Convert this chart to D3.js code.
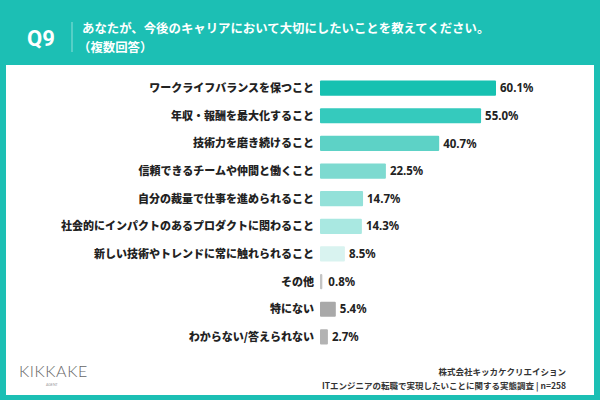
<!DOCTYPE html>
<html>
<head>
<meta charset="utf-8">
<script src="https://cdn.jsdelivr.net/npm/d3@7"></script>
<style>
  body { margin: 0; background: #1cbfb4; }
  svg { display: block; font-family: "Noto Sans CJK JP", "Noto Sans", sans-serif; }
</style>
</head>
<body>
<script>
// Data
const categories = [
  'ワークライフバランスを保つこと',
  '年収・報酬を最大化すること',
  '技術力を磨き続けること',
  '信頼できるチームや仲間と働くこと',
  '自分の裁量で仕事を進められること',
  '社会的にインパクトのあるプロダクトに関わること',
  '新しい技術やトレンドに常に触れられること',
  'その他',
  '特にない',
  'わからない/答えられない'
];
const values = [60.1, 55.0, 40.7, 22.5, 14.7, 14.3, 8.5, 0.8, 5.4, 2.7];
const barColors = ['#17c1b1', '#35cabd', '#5dd2c6', '#7ddad0', '#93e1d9', '#a9e8e1', '#d9f3f0', '#c4c4c4', '#a9a9a9', '#b3b3b3'];

const width = 600, height = 400;

let svg = d3.select('body').append('svg')
  .attr('width', width)
  .attr('height', height);

// Background + panel
svg.append('rect').attr('width', width).attr('height', height).attr('fill', '#1cbfb4');
svg.append('rect')
  .attr('x', 6).attr('y', 65)
  .attr('width', 588).attr('height', 330)
  .attr('fill', '#ffffff');

// Header
svg.append('text')
  .attr('x', 27).attr('y', 46)
  .attr('fill', '#fff')
  .attr('font-family', 'Roboto, "Noto Sans", sans-serif')
  .attr('font-weight', 700)
  .attr('font-size', 22)
  .text('Q9');
svg.append('line')
  .attr('x1', 72).attr('x2', 72)
  .attr('y1', 22).attr('y2', 52)
  .attr('stroke', '#8fe0d9').attr('stroke-width', 1);
svg.append('text')
  .attr('x', 82).attr('y', 33)
  .attr('fill', '#fff').attr('font-weight', 700).attr('font-size', 12.4)
  .text('あなたが、今後のキャリアにおいて大切にしたいことを教えてください。');
svg.append('text')
  .attr('x', 78).attr('y', 52)
  .attr('fill', '#fff').attr('font-weight', 700).attr('font-size', 12.4)
  .text('（複数回答）');

// Scales
let x = d3.scaleLinear().domain([0, 60.1]).range([320, 496]);
let y = d3.scaleBand()
  .domain(categories)
  .range([75, 350])
  .paddingInner(0.45)
  .paddingOuter(0.2);

let rows = svg.append('g').selectAll('g')
  .data(categories)
  .enter()
  .append('g');

rows.append('rect')
  .attr('x', x(0))
  .attr('y', d => y(d))
  .attr('width', (d, i) => Math.max(1.5, x(values[i]) - x(0)))
  .attr('height', y.bandwidth())
  .attr('rx', 1)
  .attr('fill', (d, i) => barColors[i]);

rows.append('text')
  .attr('x', 314)
  .attr('y', d => y(d) + y.bandwidth() / 2)
  .attr('dy', '0.36em')
  .attr('text-anchor', 'end')
  .attr('font-size', 11)
  .attr('font-weight', 900)
  .attr('fill', '#222')
  .text(d => d);

rows.append('text')
  .attr('x', (d, i) => x(values[i]) + 4 + (values[i] < 1 ? 2 : 0))
  .attr('y', d => y(d) + y.bandwidth() / 2)
  .attr('dy', '0.36em')
  .attr('font-family', '"Noto Sans", sans-serif')
  .attr('font-size', 11.5)
  .attr('font-weight', 700)
  .attr('fill', '#222')
  .text((d, i) => values[i].toFixed(1) + '%');

// Footer logo
svg.append('text')
  .attr('x', 19).attr('y', 377)
  .attr('font-family', 'Lato, "Noto Sans", sans-serif')
  .attr('font-size', 16)
  .attr('font-weight', 300)
  .attr('letter-spacing', 0.6)
  .attr('fill', '#666')
  .text('KIKKAKE');
svg.append('text')
  .attr('x', 46).attr('y', 386)
  .attr('font-family', 'Lato, sans-serif')
  .attr('font-size', 3.5)
  .attr('fill', '#999')
  .text('AGENT');

// Footer source
svg.append('text')
  .attr('x', 566).attr('y', 375)
  .attr('text-anchor', 'end')
  .attr('font-size', 8.5)
  .attr('font-weight', 700)
  .attr('fill', '#333')
  .text('株式会社キッカケクリエイション');
svg.append('text')
  .attr('x', 566).attr('y', 389)
  .attr('text-anchor', 'end')
  .attr('font-size', 8.5)
  .attr('font-weight', 700)
  .attr('fill', '#333')
  .text('ITエンジニアの転職で実現したいことに関する実態調査 | n=258');
</script>
</body>
</html>
